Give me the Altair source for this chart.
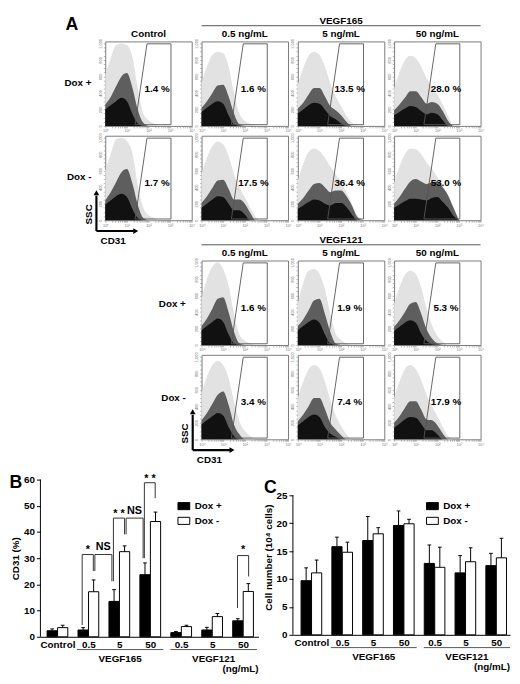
import math
import json
import altair as alt
import pandas as pd

FONT = "Liberation Sans"

# ---------------- Panel A: flow cytometry dot plots (cloud envelopes) ----------------
LOGX = [0.0, 0.25, 0.5, 0.75, 1.0, 1.25, 1.5, 1.75, 2.0, 2.25, 2.5, 2.75, 3.0]

# VEGF165 block, Dox +
CTRL_P_SPARSE = [620, 820, 980, 1000, 980, 840, 460, 160, 70, 30, 0, 0, 0]
CTRL_P_MID = [260, 350, 480, 600, 640, 470, 200, 40, 0, 0, 0, 0, 0]
CTRL_P_DENSE = [200, 250, 300, 340, 300, 150, 30, 0, 0, 0, 0, 0, 0]
V165_05_P_SPARSE = [520, 720, 860, 900, 880, 720, 400, 150, 60, 25, 0, 0, 0]
V165_05_P_MID = [220, 300, 400, 490, 500, 360, 150, 20, 0, 0, 0, 0, 0]
V165_05_P_DENSE = [170, 220, 270, 300, 270, 130, 20, 0, 0, 0, 0, 0, 0]
V165_5_P_SPARSE = [500, 700, 850, 900, 860, 720, 520, 360, 240, 120, 40, 0, 0]
V165_5_P_MID = [210, 280, 380, 460, 460, 360, 240, 190, 130, 50, 0, 0, 0]
V165_5_P_DENSE = [150, 200, 250, 280, 270, 200, 120, 80, 30, 0, 0, 0, 0]
V165_50_P_SPARSE = [450, 650, 800, 850, 820, 720, 580, 480, 380, 260, 120, 0, 0]
V165_50_P_MID = [190, 260, 340, 420, 420, 350, 270, 290, 270, 180, 60, 0, 0]
V165_50_P_DENSE = [130, 170, 210, 240, 230, 180, 140, 160, 140, 70, 0, 0, 0]
# VEGF165 block, Dox -
CTRL_M_SPARSE = [600, 800, 980, 1000, 960, 820, 440, 160, 60, 30, 0, 0, 0]
CTRL_M_MID = [240, 340, 460, 580, 620, 450, 190, 30, 0, 0, 0, 0, 0]
CTRL_M_DENSE = [190, 240, 290, 320, 280, 140, 30, 0, 0, 0, 0, 0, 0]
V165_05_M_SPARSE = [560, 760, 900, 950, 920, 780, 560, 400, 280, 150, 40, 0, 0]
V165_05_M_MID = [210, 290, 390, 480, 490, 380, 250, 250, 200, 90, 0, 0, 0]
V165_05_M_DENSE = [150, 200, 250, 290, 280, 200, 120, 120, 70, 0, 0, 0, 0]
V165_5_M_SPARSE = [480, 680, 830, 870, 840, 760, 650, 560, 460, 340, 200, 60, 0]
V165_5_M_MID = [200, 270, 360, 440, 450, 400, 340, 360, 360, 290, 180, 40, 0]
V165_5_M_DENSE = [140, 180, 220, 250, 240, 200, 180, 210, 210, 160, 70, 0, 0]
V165_50_M_SPARSE = [450, 650, 800, 870, 860, 800, 700, 620, 520, 400, 260, 120, 0]
V165_50_M_MID = [200, 280, 380, 470, 500, 470, 440, 460, 470, 400, 300, 150, 0]
V165_50_M_DENSE = [150, 190, 230, 260, 260, 250, 240, 270, 280, 220, 150, 50, 0]
# VEGF121 block, Dox +
V121_05_P_SPARSE = [560, 800, 950, 1000, 920, 720, 380, 130, 50, 20, 0, 0, 0]
V121_05_P_MID = [230, 320, 440, 560, 580, 400, 160, 20, 0, 0, 0, 0, 0]
V121_05_P_DENSE = [180, 230, 280, 320, 280, 130, 20, 0, 0, 0, 0, 0, 0]
V121_5_P_SPARSE = [500, 750, 900, 920, 860, 680, 380, 140, 60, 20, 0, 0, 0]
V121_5_P_MID = [230, 310, 420, 540, 560, 380, 160, 20, 0, 0, 0, 0, 0]
V121_5_P_DENSE = [180, 230, 280, 310, 270, 130, 20, 0, 0, 0, 0, 0, 0]
V121_50_P_SPARSE = [500, 700, 850, 900, 860, 700, 440, 240, 110, 40, 0, 0, 0]
V121_50_P_MID = [220, 300, 400, 500, 520, 380, 190, 80, 20, 0, 0, 0, 0]
V121_50_P_DENSE = [170, 220, 270, 300, 270, 140, 50, 10, 0, 0, 0, 0, 0]
# VEGF121 block, Dox -
V121_05_M_SPARSE = [560, 760, 900, 950, 900, 740, 460, 220, 100, 40, 0, 0, 0]
V121_05_M_MID = [230, 320, 430, 540, 580, 420, 180, 60, 0, 0, 0, 0, 0]
V121_05_M_DENSE = [180, 230, 280, 320, 290, 150, 40, 0, 0, 0, 0, 0, 0]
V121_5_M_SPARSE = [500, 700, 850, 900, 860, 700, 480, 290, 160, 60, 0, 0, 0]
V121_5_M_MID = [220, 300, 400, 500, 500, 370, 200, 120, 50, 0, 0, 0, 0]
V121_5_M_DENSE = [170, 220, 270, 300, 270, 150, 70, 30, 0, 0, 0, 0, 0]
V121_50_M_SPARSE = [500, 700, 850, 900, 850, 720, 540, 400, 280, 150, 40, 0, 0]
V121_50_M_MID = [200, 280, 380, 460, 460, 360, 240, 230, 170, 70, 0, 0, 0]
V121_50_M_DENSE = [140, 190, 240, 270, 260, 190, 110, 110, 60, 0, 0, 0, 0]

PCT_165_P = ["1.4 %", "1.6 %", "13.5 %", "28.0 %"]
PCT_165_M = ["1.7 %", "17.5 %", "36.4 %", "53.0 %"]
PCT_121_P = ["1.6 %", "1.9 %", "5.3 %"]
PCT_121_M = ["3.4 %", "7.4 %", "17.9 %"]
COLS_165 = ["Control", "0.5 ng/mL", "5 ng/mL", "50 ng/mL"]
COLS_121 = ["0.5 ng/mL", "5 ng/mL", "50 ng/mL"]

# CD31+ gate (log10 CD31, SSC)
GATE_X = [1.38, 1.93, 3.04, 3.04, 1.38]
GATE_Y = [15, 995, 995, 15, 15]

# ---------------- Panel B: CD31 (%) ----------------
CATS = ["Control", "0.5", "5", "50", "0.5", "5", "50"]
B_DOXP = [2.3, 2.6, 13.5, 23.7, 1.6, 2.6, 6.1]
B_DOXP_SD = [0.7, 0.9, 4.5, 4.5, 0.4, 1.0, 0.8]
B_DOXM = [3.5, 17.2, 32.5, 44.0, 3.9, 7.7, 17.3]
B_DOXM_SD = [0.9, 4.5, 2.2, 3.6, 0.5, 1.2, 3.0]

BRK_LX = [0.80, 1.21, 1.81, 2.22, 2.81, 5.82]
BRK_RX = [1.16, 1.76, 2.17, 2.77, 3.16, 6.18]
BRK_TOP = [31.4, 31.4, 45.3, 45.3, 58.8, 31.0]
BRK_LBOT = [4.5, 25.1, 21.2, 39.1, 30.0, 11.0]
BRK_RBOT = [25.1, 21.2, 39.1, 30.0, 52.9, 23.0]
SIG_TXT = ["*", "NS", "* *", "NS", "* *", "*"]
SIG_X = [0.98, 1.48, 1.99, 2.49, 2.99, 6.0]
SIG_Y = [33.2, 34.4, 46.8, 48.1, 60.2, 33.0]

# ---------------- Panel C: cell number ----------------
C_DOXP = [9.7, 15.8, 16.9, 19.6, 12.8, 11.1, 12.4]
C_DOXP_SD = [2.3, 1.7, 4.3, 2.6, 3.3, 3.1, 2.2]
C_DOXM = [11.1, 14.8, 18.1, 19.9, 12.1, 13.1, 13.8]
C_DOXM_SD = [2.3, 1.8, 1.1, 0.8, 3.6, 2.5, 3.5]

GRP_NAMES = ["VEGF165", "VEGF121"]
GRP_X0 = [0.63, 3.65]
GRP_X1 = [3.42, 6.45]
SERIES = ["Dox +", "Dox -"]

# ---------------- styles ----------------
C_SPARSE, C_MID, C_DENSE = "#e2e2e2", "#5e5e5e", "#111111"
PW, PH = 88, 86
PCT_LX, PCT_Y = 2.4, 450
ONE = pd.DataFrame({"k": [0]})

XS = alt.Scale(domain=[0, 4], nice=False, zero=False)
YS = alt.Scale(domain=[0, 1024], nice=False)
XTICKS = sorted(set([round(d + math.log10(k), 4) for d in range(4) for k in range(1, 10)] + [4.0]))
XAX = alt.Axis(values=XTICKS, title=None, domain=False, grid=False, tickSize=2, tickColor="#888",
               tickWidth=0.6, labelFontSize=4, labelColor="#777", labelPadding=1, labelOverlap=False,
               labelFlush=False,
               labelExpr="abs(datum.value - round(datum.value)) < 0.001 ? '10' + ['⁰','¹','²','³','⁴'][round(datum.value)] : ''")
YAX = alt.Axis(values=list(range(0, 1001, 50)), title=None, domain=False, grid=False, tickSize=2,
               tickColor="#888", tickWidth=0.6, labelFontSize=4, labelColor="#777", labelPadding=1,
               labelOverlap=False, labelFlush=False, labelAngle=270,
               labelExpr="datum.value % 200 == 0 ? datum.label : ''")


def txt(s, x, y, size=10, align="center", angle=0):
    return alt.Chart(ONE).mark_text(text=s, font=FONT, fontWeight="bold", fontSize=size, align=align,
                                    baseline="middle", angle=angle, color="black").encode(
        x=alt.value(x), y=alt.value(y))


def rule(x, y, x2=None, y2=None, w=1.0, color="black"):
    enc = dict(x=alt.value(x), y=alt.value(y))
    if x2 is not None:
        enc["x2"] = alt.value(x2)
    if y2 is not None:
        enc["y2"] = alt.value(y2)
    return alt.Chart(ONE).mark_rule(strokeWidth=w, color=color).encode(**enc)


def tri(shape, x, y):
    return alt.Chart(ONE).mark_point(shape=shape, filled=True, size=34, color="black", opacity=1).encode(
        x=alt.value(x), y=alt.value(y))


def arrows():
    return [rule(-9, 61, y2=97, w=2.2), rule(-9, 97, x2=29, w=2.2), tri("triangle-up", -9, 58),
            tri("triangle-right", 31, 97), txt("SSC", -17, 80, angle=270), txt("CD31", 8, 107)]


def dot_panel(sparse, mid, dense, pct, extra=()):
    df = pd.DataFrame({"lx": LOGX, "sparse": sparse, "mid": mid, "dense": dense})
    x = alt.X("lx:Q", scale=XS, axis=XAX)
    layers = [alt.Chart(df).mark_area(color=col, interpolate="monotone").encode(
        x=x, y=alt.Y(f"{f}:Q", scale=YS, axis=YAX))
        for f, col in (("sparse", C_SPARSE), ("mid", C_MID), ("dense", C_DENSE))]
    gdf = pd.DataFrame({"gx": GATE_X, "gy": GATE_Y, "o": list(range(len(GATE_X)))})
    layers.append(alt.Chart(gdf).mark_line(color="#555", strokeWidth=0.9).encode(
        x=alt.X("gx:Q", scale=XS, axis=XAX), y=alt.Y("gy:Q", scale=YS, axis=YAX), order="o:Q"))
    tdf = pd.DataFrame({"tx": [PCT_LX], "ty": [PCT_Y], "t": [pct]})
    layers.append(alt.Chart(tdf).mark_text(font=FONT, fontSize=10, fontWeight="bold", color="black").encode(
        x=alt.X("tx:Q", scale=XS, axis=XAX), y=alt.Y("ty:Q", scale=YS, axis=YAX), text="t:N"))
    layers += list(extra)
    return alt.layer(*layers).properties(width=PW, height=PH,
                                         view=alt.ViewBackground(stroke="#7a7a7a", strokeWidth=1))


def spacer(w, h):
    return alt.Chart(ONE).mark_point(opacity=0).encode(
        x=alt.X("k:Q", axis=None), y=alt.Y("k:Q", axis=None)).properties(
        width=w, height=h, view=alt.ViewBackground(stroke="transparent"))


HEAD_W = 3 * PW + 2 * 10

# VEGF165 block
s1_top = [
    dot_panel(CTRL_P_SPARSE, CTRL_P_MID, CTRL_P_DENSE, PCT_165_P[0],
              [txt("A", -34, -17, size=18), txt(COLS_165[0], PW / 2, -8), txt("Dox +", -14, 42, align="right")]),
    dot_panel(V165_05_P_SPARSE, V165_05_P_MID, V165_05_P_DENSE, PCT_165_P[1],
              [txt(COLS_165[1], PW / 2, -8), txt("VEGF165", HEAD_W / 2, -21), rule(0, -16, x2=HEAD_W, color="#555")]),
    dot_panel(V165_5_P_SPARSE, V165_5_P_MID, V165_5_P_DENSE, PCT_165_P[2], [txt(COLS_165[2], PW / 2, -8)]),
    dot_panel(V165_50_P_SPARSE, V165_50_P_MID, V165_50_P_DENSE, PCT_165_P[3], [txt(COLS_165[3], PW / 2, -8)]),
]
s1_bot = [
    dot_panel(CTRL_M_SPARSE, CTRL_M_MID, CTRL_M_DENSE, PCT_165_M[0],
              [txt("Dox -", -14, 42, align="right")] + arrows()),
    dot_panel(V165_05_M_SPARSE, V165_05_M_MID, V165_05_M_DENSE, PCT_165_M[1]),
    dot_panel(V165_5_M_SPARSE, V165_5_M_MID, V165_5_M_DENSE, PCT_165_M[2]),
    dot_panel(V165_50_M_SPARSE, V165_50_M_MID, V165_50_M_DENSE, PCT_165_M[3]),
]
# VEGF121 block
s2_top = [
    dot_panel(V121_05_P_SPARSE, V121_05_P_MID, V121_05_P_DENSE, PCT_121_P[0],
              [txt(COLS_121[0], PW / 2, -8), txt("VEGF121", HEAD_W / 2, -21), rule(0, -16, x2=HEAD_W, color="#555"),
               txt("Dox +", -16, 44, align="right")]),
    dot_panel(V121_5_P_SPARSE, V121_5_P_MID, V121_5_P_DENSE, PCT_121_P[1], [txt(COLS_121[1], PW / 2, -8)]),
    dot_panel(V121_50_P_SPARSE, V121_50_P_MID, V121_50_P_DENSE, PCT_121_P[2], [txt(COLS_121[2], PW / 2, -8)]),
]
s2_bot = [
    dot_panel(V121_05_M_SPARSE, V121_05_M_MID, V121_05_M_DENSE, PCT_121_M[0],
              [txt("Dox -", -16, 44, align="right")] + arrows()),
    dot_panel(V121_5_M_SPARSE, V121_5_M_MID, V121_5_M_DENSE, PCT_121_M[1]),
    dot_panel(V121_50_M_SPARSE, V121_50_M_MID, V121_50_M_DENSE, PCT_121_M[2]),
]

# ---------------- bar charts ----------------
BAR_OFF, BAR_HALF, CAP_HALF = 0.17, 0.165, 0.06
LABEL_EXPR = json.dumps(CATS) + "[round(datum.value)]"
RECT_PATH = "M-1.5,-0.9L1.5,-0.9L1.5,0.9L-1.5,0.9Z"


def bar_chart(vp, sp, vm, sm, ytop, ymax, ystep, ytitle, cell_w, x_off, pw, h, xdom, letter, letter_xy,
              leg_xy, extra=()):
    rows = []
    for i in range(len(CATS)):
        for s, v, sd, off in ((SERIES[0], vp[i], sp[i], -BAR_OFF), (SERIES[1], vm[i], sm[i], BAR_OFF)):
            c = i + off
            rows.append({"series": s, "v": v, "top": v + sd, "cx": c, "x0": c - BAR_HALF, "x1": c + BAR_HALF,
                         "c0": c - CAP_HALF, "c1": c + CAP_HALF})
    df = pd.DataFrame(rows)
    xs = alt.Scale(domain=xdom, range=[x_off, x_off + pw], nice=False, zero=False)
    ys = alt.Scale(domain=[0, ytop], nice=False)
    xax = alt.Axis(values=list(range(len(CATS))), labelExpr=LABEL_EXPR, ticks=False, domainColor="black",
                   domainWidth=1, labelFontSize=10, labelFontWeight="bold", labelColor="black", labelPadding=3,
                   grid=False, title=None, labelFlush=False, labelOverlap=False, labelFont=FONT)
    yax = alt.Axis(values=list(range(0, ymax + 1, ystep)), tickSize=4, tickColor="black", domain=False,
                   labelFontSize=10, labelFontWeight="bold", labelColor="black", labelPadding=2,
                   grid=False, title=ytitle, titleFontSize=10, titleFontWeight="bold", titleColor="black",
                   titlePadding=3, labelFlush=False, labelFont=FONT, titleFont=FONT, offset=-x_off)
    X = lambda f: alt.X(f, scale=xs, axis=xax)
    Y = lambda f: alt.Y(f, scale=ys, axis=yax)
    base = alt.Chart(df)
    bars = base.mark_rect(stroke="black", strokeWidth=1).encode(
        x=X("x0:Q"), x2="x1:Q", y=Y("v:Q"), y2=alt.datum(0),
        fill=alt.Fill("series:N", scale=alt.Scale(domain=SERIES, range=["black", "white"]),
                      legend=alt.Legend(orient="none", legendX=x_off + leg_xy[0], legendY=leg_xy[1], title=None,
                                        symbolType=RECT_PATH, symbolSize=64, symbolStrokeColor="black",
                                        symbolStrokeWidth=1, labelFont=FONT, labelFontSize=10,
                                        labelFontWeight="bold", labelColor="black", labelOffset=6,
                                        rowPadding=3, padding=0)))
    err = base.mark_rule(color="black", strokeWidth=1).encode(x=X("cx:Q"), y=Y("v:Q"), y2="top:Q")
    cap = base.mark_rule(color="black", strokeWidth=1).encode(x=X("c0:Q"), x2="c1:Q", y=Y("top:Q"))
    adf = pd.DataFrame({"a0": [0], "a1": [ymax]})
    yline = alt.Chart(adf).mark_rule(color="black", strokeWidth=1).encode(
        x=alt.value(x_off), y=Y("a0:Q"), y2="a1:Q")
    gdf = pd.DataFrame({"name": GRP_NAMES, "x0": GRP_X0, "x1": GRP_X1})
    gdf["mid"] = (gdf["x0"] + gdf["x1"]) / 2
    gline = alt.Chart(gdf).mark_rule(color="#555", strokeWidth=1).encode(
        x=X("x0:Q"), x2="x1:Q", y=alt.value(h + 13))
    gtext = alt.Chart(gdf).mark_text(font=FONT, fontSize=10, fontWeight="bold", color="black").encode(
        x=X("mid:Q"), y=alt.value(h + 23), text="name:N")
    unit = alt.Chart(ONE).mark_text(text="(ng/mL)", font=FONT, fontSize=10, fontWeight="bold", align="right",
                                    color="black").encode(x=alt.value(x_off + pw), y=alt.value(h + 33))
    lt = txt(letter, x_off + letter_xy[0], letter_xy[1], size=18)
    layers = [bars, err, cap, yline, gline, gtext, unit, lt] + [e(X, Y) for e in extra]
    return alt.layer(*layers).properties(width=cell_w, height=h, view=alt.ViewBackground(stroke="transparent"))


def brackets(X, Y):
    segs = []
    for lx, rx, t, lb, rb in zip(BRK_LX, BRK_RX, BRK_TOP, BRK_LBOT, BRK_RBOT):
        segs += [{"x": lx, "x2": lx, "y": lb, "y2": t}, {"x": lx, "x2": rx, "y": t, "y2": t},
                 {"x": rx, "x2": rx, "y": t, "y2": rb}]
    return alt.Chart(pd.DataFrame(segs)).mark_rule(color="#333", strokeWidth=1).encode(
        x=X("x:Q"), x2="x2:Q", y=Y("y:Q"), y2="y2:Q")


def sig(X, Y):
    sdf = pd.DataFrame({"t": SIG_TXT, "sx": SIG_X, "sy": SIG_Y})
    return alt.Chart(sdf).mark_text(font=FONT, fontSize=11, fontWeight="bold", color="black").encode(
        x=X("sx:Q"), y=Y("sy:Q"), text="t:N")


COL0 = 56
BH = 160
chartB = bar_chart(B_DOXP, B_DOXP_SD, B_DOXM, B_DOXM_SD, 60, 60, 10, "CD31 (%)", COL0, 0, 222, BH,
                   [-0.55, 6.5], "B", (-25, 4), (141, 22), extra=[brackets, sig])
# C's 25 sits 16 px below B's 60; extend C's domain above 25 so both share the row top
C_H = 158
C_TOP = 25 * C_H / (C_H - 16)
C_CELL_X = COL0 + 10 + PW + 10
chartC = bar_chart(C_DOXP, C_DOXP_SD, C_DOXM, C_DOXM_SD, C_TOP, 25, 5, "Cell number (10⁴ cells)", PW,
                   257 - C_CELL_X, 221, C_H, [-0.6, 6.45], "C", (-23, 9), (137, 22))

GAP = 31
items = [
    spacer(COL0, PH), *s1_top,
    spacer(COL0, PH + GAP), *s1_bot,
    spacer(COL0, PH), spacer(PW, 1), *s2_top,
    spacer(COL0, PH + GAP), spacer(PW, 1), *s2_bot,
    chartB, spacer(PW, 1), chartC, spacer(PW, 1), spacer(PW, 1),
]

chart = (alt.concat(*items, columns=5, spacing=10, bounds="flush", align="each", padding=1)
         .resolve_scale(fill="independent")
         .resolve_legend(fill="independent")
         .configure(font=FONT))

chart.save("out.html", embed_options={"renderer": "svg", "actions": False})
